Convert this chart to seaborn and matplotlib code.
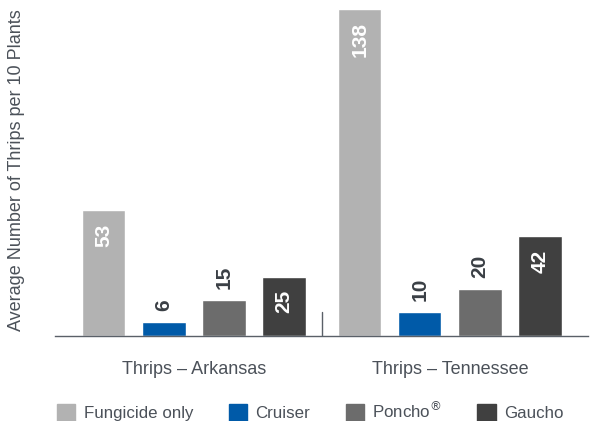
import matplotlib
matplotlib.use("Agg")
import matplotlib.pyplot as plt
import matplotlib.patches as mpatches
import pandas as pd
import seaborn as sns

sites = ["Thrips – Arkansas", "Thrips – Tennessee"]
treatments = ["Fungicide only", "Cruiser", "Poncho®", "Gaucho"]
legend_labels = ["Fungicide only", "Cruiser", "Poncho$^{®}$", "Gaucho"]
arkansas = [53, 6, 15, 25]
tennessee = [138, 10, 20, 42]
colors = ["#b2b2b2", "#005aa8", "#6c6c6c", "#404040"]

TEXT = "#4b5159"


def build_frame() -> pd.DataFrame:
    rows = []
    for site, values in zip(sites, [arkansas, tennessee]):
        for treatment, value in zip(treatments, values):
            rows.append({"site": site, "treatment": treatment, "thrips": value})
    return pd.DataFrame(rows)


def main() -> None:
    sns.set_style("white")
    plt.rcParams["font.family"] = ["Liberation Sans Narrow", "Liberation Sans", "DejaVu Sans"]

    df = build_frame()

    fig = plt.figure(figsize=(5.92, 4.21), dpi=100)
    ax = fig.add_axes([55 / 592, 85 / 421, 533 / 592, 331 / 421])

    sns.barplot(
        data=df,
        x="site",
        y="thrips",
        hue="treatment",
        hue_order=treatments,
        palette=colors,
        saturation=1,
        width=0.94,
        gap=0.28,
        legend=False,
        ax=ax,
    )

    ax.set_xlim(-0.543, 1.54)
    ax.set_ylim(0, 139.7)

    # value labels: inside (white) for tall bars, above for short ones
    for container in ax.containers:
        for bar in container:
            h = bar.get_height()
            x = bar.get_x() + bar.get_width() / 2
            if h > 22:
                ax.annotate(
                    f"{h:.0f}", (x, h), xytext=(0, -13), textcoords="offset pixels",
                    ha="center", va="top", rotation=90, color="white",
                    fontsize=15, fontweight="bold",
                )
            else:
                ax.annotate(
                    f"{h:.0f}", (x, h), xytext=(0, 11), textcoords="offset pixels",
                    ha="center", va="bottom", rotation=90, color="#3a3f45",
                    fontsize=15, fontweight="bold",
                )

    # group separator
    ax.axvline(0.5, ymin=0, ymax=24 / 331, color="#5a6068", lw=1)

    for side in ["top", "right", "left"]:
        ax.spines[side].set_visible(False)
    ax.spines["bottom"].set_color("#5a6068")
    ax.spines["bottom"].set_linewidth(1)
    ax.set_yticks([])
    ax.tick_params(axis="x", length=0, pad=18, labelsize=13, labelcolor=TEXT)
    ax.set_xlabel("")
    ax.set_ylabel("Average Number of Thrips per 10 Plants", fontsize=13, color=TEXT)
    ax.yaxis.set_label_coords(-30 / 533, 0.5)

    handles = [mpatches.Patch(color=c) for c in colors]
    fig.legend(
        handles, legend_labels, ncol=4, loc="center left",
        bbox_to_anchor=(57 / 592, 10 / 421), frameon=False,
        fontsize=12.2, labelcolor=TEXT, handlelength=1.09, handleheight=1.2,
        handletextpad=0.48, columnspacing=2.1, borderpad=0, borderaxespad=0,
    )

    fig.savefig("out.png", dpi=100)
    plt.close(fig)


if __name__ == "__main__":
    main()
